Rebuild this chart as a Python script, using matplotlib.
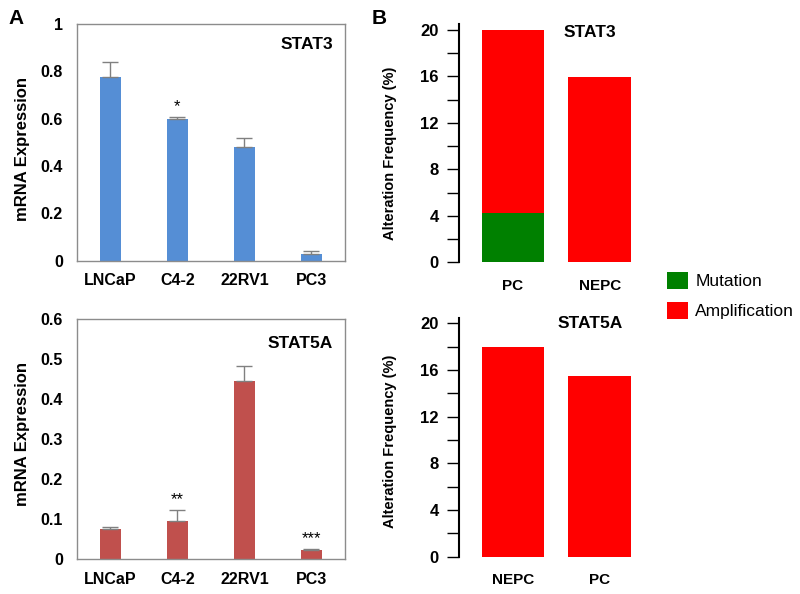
import matplotlib
matplotlib.use("Agg")
import matplotlib.pyplot as plt
from matplotlib.patches import Patch

plt.rcParams['font.family'] = ['Liberation Sans', 'DejaVu Sans']

# ---- data ----
cell_lines = ["LNCaP", "C4-2", "22RV1", "PC3"]
stat3_expr = [0.776, 0.600, 0.479, 0.030]
stat3_err = [0.062, 0.008, 0.040, 0.009]
stat3_sig = ["", "*", "", ""]
stat5a_expr = [0.076, 0.096, 0.444, 0.022]
stat5a_err = [0.005, 0.026, 0.038, 0.003]
stat5a_sig = ["", "**", "", "***"]

stat3_groups = ["PC", "NEPC"]
stat3_mutation = [4.25, 0.0]
stat3_amplification = [15.75, 15.9]
stat5a_groups = ["NEPC", "PC"]
stat5a_mutation = [0.0, 0.0]
stat5a_amplification = [18.0, 15.5]

blue = "#558ED5"
red_bar = "#C0504D"
green = "#008000"
red = "#FF0000"

fig = plt.figure(figsize=(8, 5.94), dpi=100)


def panel_a(rect, values, errs, sigs, ymax, step, title, color, ylab_y, title_y):
    ax = fig.add_axes(rect)
    x = range(len(cell_lines))
    ax.bar(x, values, width=0.31, color=color, zorder=2)
    ax.errorbar(x, values, yerr=[[0] * len(errs), errs], fmt='none',
                ecolor='#808080', elinewidth=1, capsize=5.5, capthick=1, zorder=3)
    for xi, v, e, s in zip(x, values, errs, sigs):
        if s:
            ax.annotate(s, (xi, v + e), xytext=(0, 2), textcoords='offset points',
                        ha='center', va='bottom', fontsize=12)
    ax.set_xlim(-0.5, len(cell_lines) - 0.5)
    ax.set_ylim(0, ymax)
    ticks = [round(i * step, 2) for i in range(int(round(ymax / step)) + 1)]
    ax.set_yticks(ticks)
    ax.set_yticklabels([("%g" % t) for t in ticks])
    ax.set_xticks(list(x))
    ax.set_xticklabels(cell_lines)
    ax.tick_params(axis='both', length=0, labelsize=11.5)
    ax.tick_params(axis='y', pad=10)
    ax.tick_params(axis='x', pad=9)
    for lbl in ax.get_xticklabels() + ax.get_yticklabels():
        lbl.set_fontweight('bold')
    for sp in ax.spines.values():
        sp.set_color('#8c8c8c')
        sp.set_linewidth(1)
    ax.set_ylabel("mRNA Expression", fontsize=12, fontweight='bold')
    ax.yaxis.set_label_coords(-0.174, ylab_y)
    ax.text(0.955, title_y, title, transform=ax.transAxes,
            ha='right', va='center', fontsize=12.5, fontweight='bold')
    return ax


panel_a([0.0959, 0.5611, 0.3354, 0.3985], stat3_expr, stat3_err, stat3_sig,
        1.0, 0.2, "STAT3", blue, 0.47, 0.915)
panel_a([0.0959, 0.0589, 0.3354, 0.4040], stat5a_expr, stat5a_err, stat5a_sig,
        0.6, 0.1, "STAT5A", red_bar, 0.52, 0.90)


def panel_b(rect, groups, mut, amp, ytop, title, title_y, ylab_y):
    ax = fig.add_axes(rect)
    x = list(range(len(groups)))
    ax.bar(x, mut, width=0.723, color=green, zorder=2)
    ax.bar(x, amp, width=0.723, bottom=mut, color=red, zorder=2)
    ax.set_xlim(-0.623, 1.5)
    ax.set_ylim(0, ytop)
    for s in ['top', 'right', 'bottom']:
        ax.spines[s].set_visible(False)
    ax.spines['left'].set_bounds(0, ytop)
    ax.spines['left'].set_linewidth(1.5)
    ax.set_yticks([0, 4, 8, 12, 16, 20])
    ax.set_yticks([2, 6, 10, 14, 18], minor=True)
    ax.tick_params(axis='y', which='both', length=8.6, width=1, pad=6, labelsize=12)
    ax.set_xticks(x)
    ax.set_xticklabels(groups)
    ax.tick_params(axis='x', length=0, pad=12, labelsize=11)
    for lbl in ax.get_xticklabels() + ax.get_yticklabels():
        lbl.set_fontweight('bold')
    ax.set_ylabel("Alteration Frequency (%)", fontsize=10.5, fontweight='bold')
    ax.yaxis.set_label_coords(-0.337, ylab_y)
    ax.text(0.888, title_y, title, ha='center', va='center', fontsize=12.5,
            fontweight='bold')
    return ax


panel_b([0.5738, 0.5584, 0.23, 0.4012], stat3_groups, stat3_mutation,
        stat3_amplification, 20.5, "STAT3", 19.8, 0.457)
panel_b([0.5738, 0.0628, 0.23, 0.4013], stat5a_groups, stat5a_mutation,
        stat5a_amplification, 20.43, "STAT5A", 20.0, 0.485)

handles = [Patch(facecolor=green, label="Mutation"),
           Patch(facecolor=red, label="Amplification")]
fig.legend(handles=handles, loc='upper left',
           bbox_to_anchor=(666.7 / 800, 1 - 271.7 / 594),
           frameon=False, fontsize=12.5, handlelength=1.2, handleheight=1.2,
           handletextpad=0.45, labelspacing=0.7, borderpad=0, borderaxespad=0)

fig.text(8 / 800, 1 - 19 / 594, "A", fontsize=15, fontweight='bold', va='center')
fig.text(372 / 800, 1 - 19 / 594, "B", fontsize=15, fontweight='bold', va='center')

fig.savefig("out.png", dpi=100)
